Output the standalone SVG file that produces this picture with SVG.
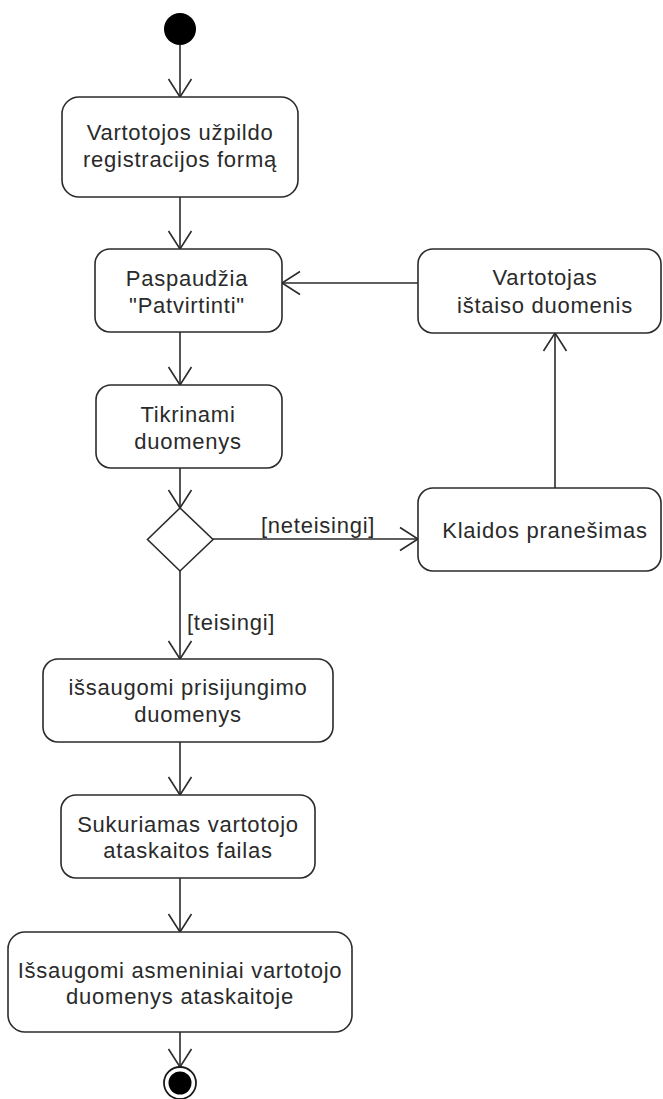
<svg xmlns="http://www.w3.org/2000/svg" width="663" height="1099" viewBox="0 0 663 1099">
  <style>
    .act { fill: #ffffff; stroke: #2b2b2b; stroke-width: 1.6; }
    .lbl { font-family: "Liberation Sans", Arial, sans-serif; font-size: 22px; letter-spacing: 0.75px; fill: #2a2a2a; text-anchor: middle; }
    .guard { font-family: "Liberation Sans", Arial, sans-serif; font-size: 22px; letter-spacing: 0.75px; fill: #2a2a2a; }
    .flow { fill: none; stroke: #2b2b2b; stroke-width: 1.6; marker-end: url(#open); }
  </style>
  <defs>
    <marker id="open" viewBox="-21 -14 23 28" markerWidth="23" markerHeight="28" refX="0" refY="0" orient="auto" markerUnits="userSpaceOnUse">
      <path d="M-18,-11.5 L0,0 L-18,11.5" fill="none" stroke="#2b2b2b" stroke-width="1.6"/>
    </marker>
  </defs>
  <rect width="663" height="1099" fill="#ffffff"/>

  <!-- control flows -->
  <g id="connectors">
    <line class="flow" x1="180" y1="45" x2="180" y2="97"/>
    <line class="flow" x1="180" y1="197" x2="180" y2="249"/>
    <line class="flow" x1="180" y1="332" x2="180" y2="385"/>
    <line class="flow" x1="180" y1="468" x2="180" y2="508"/>
    <line class="flow" x1="180" y1="571" x2="180" y2="659"/>
    <line class="flow" x1="180" y1="742" x2="180" y2="795"/>
    <line class="flow" x1="180" y1="878" x2="180" y2="932"/>
    <line class="flow" x1="180" y1="1032" x2="180" y2="1067"/>
    <line class="flow" x1="213" y1="539" x2="418" y2="539"/>
    <line class="flow" x1="555" y1="488" x2="555" y2="333"/>
    <line class="flow" x1="418" y1="283" x2="282" y2="283"/>
    <text class="guard" x="261" y="533">[neteisingi]</text>
    <text class="guard" x="187" y="630">[teisingi]</text>
  </g>

  <g id="start">
    <circle cx="180" cy="29" r="16" fill="#000000"/>
  </g>

  <g id="fill-form">
    <rect class="act" x="62" y="97" width="236" height="100" rx="17"/>
    <text class="lbl" x="180" y="140">Vartotojos užpildo<tspan x="180" y="167">registracijos formą</tspan></text>
  </g>

  <g id="confirm">
    <rect class="act" x="95" y="249" width="187" height="83" rx="15"/>
    <text class="lbl" x="187" y="286">Paspaudžia<tspan x="187" y="313">"Patvirtinti"</tspan></text>
  </g>

  <g id="validate">
    <rect class="act" x="96" y="385" width="186" height="83" rx="15"/>
    <text class="lbl" x="188" y="422">Tikrinami<tspan x="188" y="449">duomenys</tspan></text>
  </g>

  <g id="decision">
    <polygon class="act" points="180,508 213,539.5 180,571 147.5,539.5"/>
  </g>

  <g id="error-message">
    <rect class="act" x="418" y="488" width="243" height="83" rx="15"/>
    <text class="lbl" x="545" y="538">Klaidos pranešimas</text>
  </g>

  <g id="fix-data">
    <rect class="act" x="418" y="249" width="243" height="84" rx="15"/>
    <text class="lbl" x="545" y="285">Vartotojas<tspan x="545" y="313">ištaiso duomenis</tspan></text>
  </g>

  <g id="save-login">
    <rect class="act" x="43" y="659" width="290" height="83" rx="15"/>
    <text class="lbl" x="188" y="695">išsaugomi prisijungimo<tspan x="188" y="722">duomenys</tspan></text>
  </g>

  <g id="create-report">
    <rect class="act" x="61" y="795" width="254" height="83" rx="15"/>
    <text class="lbl" x="188" y="832">Sukuriamas vartotojo<tspan x="188" y="858">ataskaitos failas</tspan></text>
  </g>

  <g id="save-personal">
    <rect class="act" x="8" y="932" width="344" height="100" rx="17"/>
    <text class="lbl" x="180" y="978">Išsaugomi asmeniniai vartotojo<tspan x="180" y="1004">duomenys ataskaitoje</tspan></text>
  </g>

  <g id="end">
    <circle cx="180" cy="1083" r="16" fill="#ffffff" stroke="#1a1a1a" stroke-width="1.8"/>
    <circle cx="180" cy="1083" r="11.5" fill="#000000"/>
  </g>
</svg>
